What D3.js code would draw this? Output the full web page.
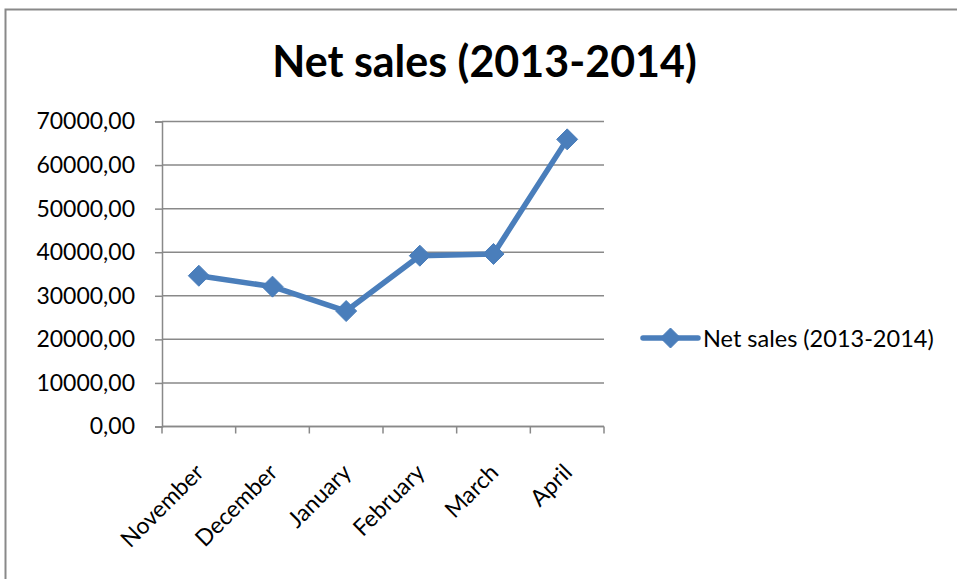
<!DOCTYPE html>
<html>
<head>
<meta charset="utf-8">
<script src="https://cdn.jsdelivr.net/npm/d3@7"></script>
<style>
  html, body { margin: 0; padding: 0; background: #ffffff; }
  svg { display: block; }
  text { font-family: Lato, "Open Sans", sans-serif; fill: #000; }
</style>
</head>
<body>
<svg id="chart" width="957" height="579"></svg>
<script>
// Monthly net sales, November 2013 to April 2014
const months = ["November", "December", "January", "February", "March", "April"];
const netSales = [34600, 32100, 26500, 39200, 39600, 65900];
const yTicks = [0, 10000, 20000, 30000, 40000, 50000, 60000, 70000];
const seriesName = "Net sales (2013-2014)";
const chartTitle = "Net sales (2013-2014)";

const svg = d3.select("#chart");
const W = 957, H = 579;
const plot = { left: 162, right: 604, top: 121.5, bottom: 426.5 };
const gridColor = "#898989";
const lineColor = "#4A7EBB";

// outer chart frame (runs past the right and bottom edges)
svg.append("rect")
  .attr("x", 5.5).attr("y", 9.5)
  .attr("width", 1000).attr("height", 700)
  .attr("fill", "none").attr("stroke", gridColor).attr("stroke-width", 2);

const x = d3.scaleBand().domain(months).range([plot.left, plot.right]).padding(0);
const y = d3.scaleLinear().domain([0, 70000]).range([plot.bottom, plot.top]);

// horizontal gridlines
svg.append("g")
  .selectAll("line")
  .data(yTicks)
  .join("line")
  .attr("x1", plot.left).attr("x2", plot.right)
  .attr("y1", d => y(d)).attr("y2", d => y(d))
  .attr("stroke", gridColor).attr("stroke-width", 1.5);

// y axis with comma-decimal labels
const fmt = d => d3.format(".2f")(d).replace(".", ",");
const yAxis = svg.append("g")
  .attr("transform", `translate(${plot.left},0)`)
  .call(d3.axisLeft(y).tickValues(yTicks).tickFormat(fmt).tickSize(7).tickPadding(20));
yAxis.select(".domain").attr("stroke", gridColor).attr("stroke-width", 1.5);
yAxis.selectAll(".tick line").attr("stroke", gridColor).attr("stroke-width", 1.5);
yAxis.selectAll(".tick text")
  .style("font-family", "Lato, sans-serif").style("font-size", "23px").attr("fill", "#000");

// x axis: tick marks on category boundaries
const xAxisG = svg.append("g");
xAxisG.append("line")
  .attr("x1", plot.left).attr("x2", plot.right)
  .attr("y1", plot.bottom).attr("y2", plot.bottom)
  .attr("stroke", gridColor).attr("stroke-width", 1.5);
const bounds = months.map(m => x(m)).concat([x(months[months.length - 1]) + x.bandwidth()]);
xAxisG.selectAll("line.tk")
  .data(bounds)
  .join("line")
  .attr("class", "tk")
  .attr("x1", d => d).attr("x2", d => d)
  .attr("y1", plot.bottom).attr("y2", plot.bottom + 7)
  .attr("stroke", gridColor).attr("stroke-width", 1.5);

// rotated month labels
xAxisG.selectAll("text")
  .data(months)
  .join("text")
  .attr("text-anchor", "end")
  .attr("dominant-baseline", "central")
  .attr("transform", d => `translate(${x(d) + x.bandwidth() / 2},${plot.bottom + 41}) rotate(-45)`)
  .style("font-size", "23px")
  .text(d => d);

// diamond marker path
const diamond = r => `M0,${-r}L${r},0L0,${r}L${-r},0Z`;

// series line
const line = d3.line()
  .x((d, i) => x(months[i]) + x.bandwidth() / 2)
  .y(d => y(d));
svg.append("path")
  .datum(netSales)
  .attr("d", line)
  .attr("fill", "none")
  .attr("stroke", lineColor)
  .attr("stroke-width", 5.5)
  .attr("stroke-linejoin", "round")
  .attr("stroke-linecap", "round");

svg.append("g")
  .selectAll("path")
  .data(netSales)
  .join("path")
  .attr("transform", (d, i) => `translate(${x(months[i]) + x.bandwidth() / 2},${y(d)})`)
  .attr("d", diamond(10.5))
  .attr("fill", lineColor)
  .attr("stroke", lineColor)
  .attr("stroke-width", 1)
  .attr("stroke-linejoin", "round");

// title
svg.append("text")
  .attr("x", 484.5).attr("y", 77)
  .attr("text-anchor", "middle")
  .style("font-size", "43px").style("font-weight", "700")
  .text(chartTitle);

// legend
const lg = svg.append("g").attr("transform", "translate(643,338)");
lg.append("line")
  .attr("x1", 0).attr("x2", 55).attr("y1", 0).attr("y2", 0)
  .attr("stroke", lineColor).attr("stroke-width", 5.5).attr("stroke-linecap", "round");
lg.append("path")
  .attr("transform", "translate(27.5,0)")
  .attr("d", diamond(10))
  .attr("fill", lineColor).attr("stroke", lineColor).attr("stroke-linejoin", "round");
lg.append("text")
  .attr("x", 60).attr("y", 0)
  .attr("dominant-baseline", "central")
  .style("font-size", "23.5px")
  .text(seriesName);
</script>
</body>
</html>
